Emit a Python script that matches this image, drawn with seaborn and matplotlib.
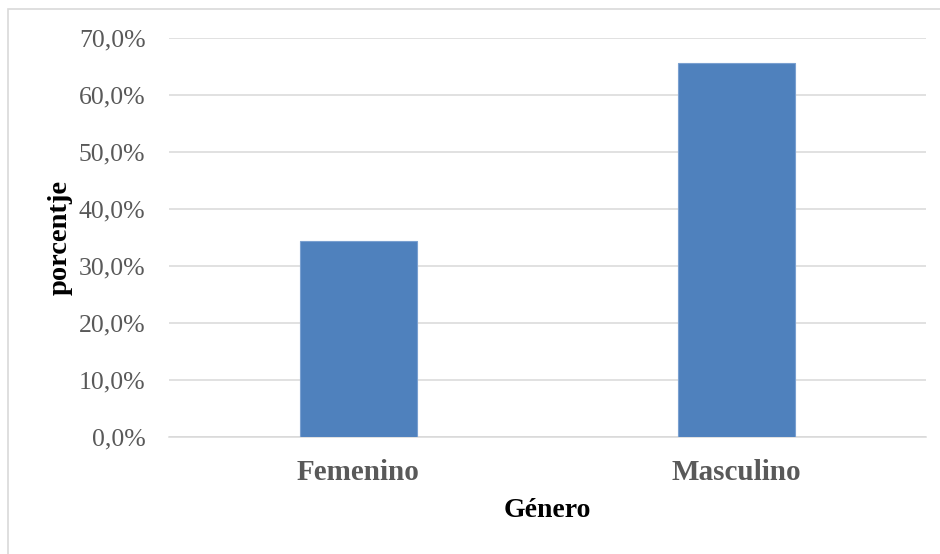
import pandas as pd
import matplotlib
matplotlib.use("Agg")
import matplotlib.pyplot as plt
from matplotlib.patches import Rectangle
from matplotlib.ticker import FuncFormatter
import seaborn as sns

# Data
generos = ["Femenino", "Masculino"]
porcentajes = [34.4, 65.6]
y_ticks = [0, 10, 20, 30, 40, 50, 60, 70]

df = pd.DataFrame({"Género": generos, "porcentje": porcentajes})

sns.set_style("white")
plt.rcParams['font.family'] = ['Liberation Serif', 'DejaVu Serif']

fig = plt.figure(figsize=(9.4, 5.54), dpi=100)
ax = fig.add_axes([169 / 940, 1 - 437 / 554, (926 - 169) / 940, (437 - 38) / 554])

# Thin grey frame around the chart, as in the Excel export
fig.patches.append(Rectangle((8 / 940, -0.1), 1.1, 1 - 9 / 554 + 0.1,
                             transform=fig.transFigure, fill=False,
                             edgecolor="#d9d9d9", linewidth=1.2, zorder=0))

sns.barplot(data=df, x="Género", y="porcentje", color="#4f81bd",
            width=0.31, edgecolor="#7aa0d0", linewidth=0.8,
            saturation=1, ax=ax, zorder=3)

ax.set_ylim(0, 70)
ax.set_yticks(y_ticks)
ax.yaxis.set_major_formatter(FuncFormatter(lambda v, p: f"{v:.1f}%".replace(".", ",")))
ax.grid(axis="y", color="#d9d9d9", linewidth=1.1, zorder=0)
ax.grid(axis="x", visible=False)
for side in ["top", "right", "left"]:
    ax.spines[side].set_visible(False)
ax.spines["bottom"].set_color("#d9d9d9")
ax.spines["bottom"].set_linewidth(1.1)

ax.tick_params(axis="y", length=0, pad=17, labelsize=18.5, labelcolor="#595959")
ax.tick_params(axis="x", length=0, pad=16, labelsize=21, labelcolor="#595959")
for lab in ax.get_xticklabels():
    lab.set_fontweight("bold")

ax.set_xlabel("Género", fontsize=20, fontweight="bold", color="black")
ax.set_ylabel("porcentje", fontsize=20.5, fontweight="bold", color="black")
ax.xaxis.set_label_coords(0.5, -(498 - 437) / 399)
ax.yaxis.set_label_coords((73 - 169) / 757, 0.5)

fig.savefig("out.png", dpi=100, facecolor="white")
